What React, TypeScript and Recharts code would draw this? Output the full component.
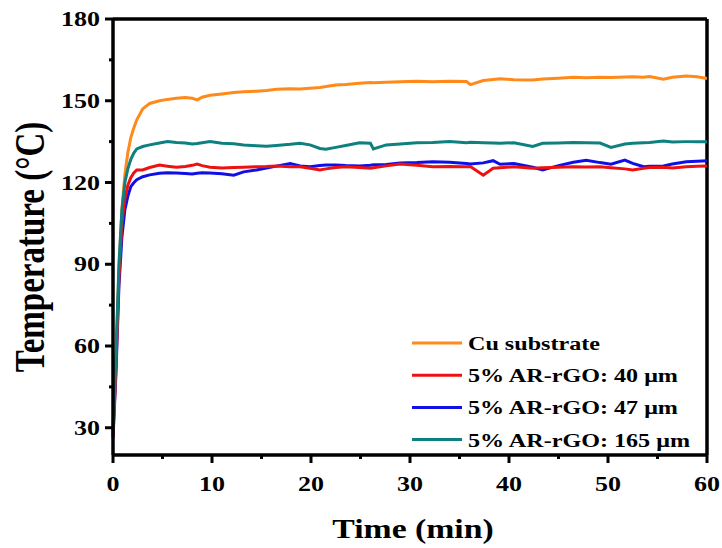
import React from 'react';
import { LineChart, Line, XAxis, YAxis, ReferenceLine, Legend } from 'recharts';

const timeMin = [0, 0.3, 0.6, 0.9, 1.2, 1.5, 1.8, 2.1, 2.4, 3, 3.7, 4.7, 5.5, 6.4, 7.3, 8, 8.5, 9, 9.8, 11, 12.2, 13.2, 14.5, 15.5, 16.5, 17.9, 18.9, 19.9, 20.9, 21.5, 22.5, 23.5, 24.9, 26, 26.3, 27.6, 29, 30.7, 32.3, 34, 35.7, 36.1, 37.4, 38.4, 39.1, 40.5, 42.4, 43.4, 45, 46.5, 47.8, 49.2, 50.3, 51.7, 52.5, 53.6, 54.2, 55.6, 56.5, 57.9, 59, 60];

const cuTemp = [28, 55, 88, 110, 123, 131, 136.5, 140, 143, 147, 149, 150, 150.5, 150.9, 151.2, 150.9, 150.3, 151.3, 152, 152.5, 153, 153.3, 153.5, 153.8, 154.2, 154.4, 154.3, 154.6, 154.9, 155.2, 155.8, 156, 156.4, 156.7, 156.6, 156.8, 157, 157.2, 157, 157.2, 157.1, 155.9, 157.4, 157.8, 158.1, 157.7, 157.6, 158, 158.3, 158.6, 158.4, 158.6, 158.5, 158.7, 158.8, 158.6, 158.9, 157.9, 158.6, 159.1, 158.8, 158.2];

const rgo40Temp = [27, 52, 85, 105, 114, 119, 121.8, 123.5, 124.6, 124.6, 125.5, 126.4, 126, 125.6, 125.9, 126.3, 126.8, 126.2, 125.6, 125.3, 125.5, 125.6, 125.8, 125.9, 126.1, 125.8, 125.8, 125.2, 124.6, 125, 125.5, 125.8, 125.5, 125.2, 125.4, 126.1, 126.8, 126.3, 125.8, 125.9, 125.8, 125.9, 122.7, 125.2, 125.4, 125.8, 125.2, 125.4, 125.6, 125.8, 125.7, 125.8, 125.4, 125, 124.6, 125.2, 125.5, 125.6, 125.3, 125.8, 126, 126.1];

const rgo47Temp = [26, 50, 82, 100, 110, 115, 118.5, 119.9, 121, 122.1, 122.8, 123.4, 123.6, 123.5, 123.3, 123.1, 123.4, 123.6, 123.5, 123.2, 122.7, 123.9, 124.6, 125.3, 126, 127, 126.1, 125.8, 126.2, 126.4, 126.4, 126.2, 126.1, 126.3, 126.5, 126.6, 127.2, 127.3, 127.6, 127.4, 127, 126.8, 127.2, 128, 126.7, 127, 125.6, 124.6, 126.2, 127.4, 128.2, 127.3, 126.7, 128.2, 127, 125.8, 126, 126.1, 126.8, 127.6, 127.8, 128];

const rgo165Temp = [29, 57, 90, 110, 120, 125, 128.5, 130.8, 132.3, 133.2, 133.8, 134.5, 135, 134.7, 134.5, 134.1, 134.3, 134.6, 135, 134.4, 134.2, 133.8, 133.5, 133.3, 133.6, 134, 134.4, 133.8, 132.5, 132.2, 132.9, 133.6, 134.6, 134.4, 132.3, 133.8, 134.1, 134.6, 134.7, 135, 134.6, 134.8, 134.6, 134.5, 134.4, 134.6, 133.2, 134.4, 134.5, 134.7, 134.6, 134.5, 132.9, 134.1, 134.4, 134.6, 134.7, 135.2, 134.9, 135, 135, 135];

const xTicks = [0, 5, 10, 15, 20, 25, 30, 35, 40, 45, 50, 55, 60];
const yTicks = [30, 45, 60, 75, 90, 105, 120, 135, 150, 165, 180];
const seriesNames = ['Cu substrate', '5% AR-rGO: 40 μm', '5% AR-rGO: 47 μm', '5% AR-rGO: 165 μm'];

const data = timeMin.map((t, i) => ({
  t,
  cu: cuTemp[i],
  r40: rgo40Temp[i],
  r47: rgo47Temp[i],
  r165: rgo165Temp[i],
}));

const FONT = "'Liberation Serif', 'Times New Roman', serif";
const SX = 1.3;
const COLORS = { cu: '#FF8A1A', r40: '#EE1111', r47: '#1010E6', r165: '#0E8080' };

function YTick(props: any) {
  const { x, y, payload } = props;
  const v = payload.value;
  const major = v % 30 === 0;
  const len = major ? 8 : 4;
  return (
    <g>
      <line x1={x} x2={x - len} y1={y} y2={y} stroke="#000" strokeWidth={3} />
      {major && (
        <text transform={`translate(${x - 13},${y + 7}) scale(${SX},1)`} textAnchor="end" fontSize={20} fontWeight="bold" fontFamily={FONT} fill="#000">
          {v}
        </text>
      )}
    </g>
  );
}

function XTick(props: any) {
  const { x, y, payload } = props;
  const v = payload.value;
  const major = v % 10 === 0;
  const len = major ? 8 : 4;
  return (
    <g>
      <line x1={x} x2={x} y1={y} y2={y + len} stroke="#000" strokeWidth={3} />
      {major && (
        <text transform={`translate(${x},${y + 36}) scale(${SX},1)`} textAnchor="middle" fontSize={20} fontWeight="bold" fontFamily={FONT} fill="#000">
          {v}
        </text>
      )}
    </g>
  );
}

function YTitle(props: any) {
  const vb = props.viewBox || { x: 53, y: 19, width: 60, height: 436 };
  const cx = vb.x - 9;
  const cy = vb.y + vb.height / 2 + 10;
  return (
    <text transform={`translate(${cx},${cy}) scale(${SX},1) rotate(-90)`} textAnchor="middle" fontSize={33} fontWeight="bold" fontFamily={FONT} fill="#000">
      Temperature (°C)
    </text>
  );
}

function XTitle(props: any) {
  const vb = props.viewBox || { x: 113, y: 455, width: 594, height: 60 };
  const cx = vb.x + vb.width / 2 + 3;
  const cy = vb.y + 83;
  return (
    <text transform={`translate(${cx},${cy}) scale(1.25,1)`} textAnchor="middle" fontSize={27} fontWeight="bold" fontFamily={FONT} fill="#000">
      Time (min)
    </text>
  );
}

function LegendBox(props: any) {
  const payload = props.payload || [];
  const items = seriesNames.map((n) => payload.find((p: any) => p.value === n)).filter(Boolean);
  return (
    <svg width={300} height={140} style={{ overflow: 'visible', display: 'block' }}>
      {items.map((p: any, i: number) => {
        const cy = 16 + i * 32.2;
        return (
          <g key={p.value}>
            <line x1={0} x2={50} y1={cy} y2={cy} stroke={p.color} strokeWidth={3} />
            <text transform={`translate(56,${cy + 7}) scale(1.27,1)`} fontSize={19} fontWeight="bold" fontFamily={FONT} fill="#000">
              {p.value}
            </text>
          </g>
        );
      })}
    </svg>
  );
}

export default function App() {
  return (
    <div style={{ position: 'absolute', left: 0, top: 0, width: 722, height: 548, background: '#fff' }}>
      <LineChart width={722} height={548} data={data} margin={{ top: 19, right: 15, bottom: 33, left: 53 }}>
        <XAxis
          dataKey="t"
          type="number"
          domain={[0, 60]}
          ticks={xTicks}
          interval={0}
          tickSize={0}
          tickMargin={0}
          tickLine={false}
          tick={<XTick />}
          axisLine={{ stroke: '#000', strokeWidth: 3.5 }}
          height={60}
          label={<XTitle />}
        />
        <YAxis
          type="number"
          domain={[20, 180]}
          ticks={yTicks}
          interval={0}
          tickSize={0}
          tickMargin={0}
          tickLine={false}
          tick={<YTick />}
          axisLine={{ stroke: '#000', strokeWidth: 3.5 }}
          width={60}
          allowDataOverflow
          label={<YTitle />}
        />
        <ReferenceLine y={180} stroke="#000" strokeWidth={3.5} />
        <ReferenceLine x={60} stroke="#000" strokeWidth={3.5} />
        <Line dataKey="cu" name={seriesNames[0]} stroke={COLORS.cu} strokeWidth={3} dot={false} isAnimationActive={false} />
        <Line dataKey="r47" name={seriesNames[2]} stroke={COLORS.r47} strokeWidth={3} dot={false} isAnimationActive={false} />
        <Line dataKey="r40" name={seriesNames[1]} stroke={COLORS.r40} strokeWidth={3} dot={false} isAnimationActive={false} />
        <Line dataKey="r165" name={seriesNames[3]} stroke={COLORS.r165} strokeWidth={3} dot={false} isAnimationActive={false} />
        <Legend
          layout="vertical"
          align="center"
          verticalAlign="middle"
          content={<LegendBox />}
          wrapperStyle={{ position: 'absolute', left: 412, top: 327, width: 300, height: 140 }}
        />
      </LineChart>
    </div>
  );
}
